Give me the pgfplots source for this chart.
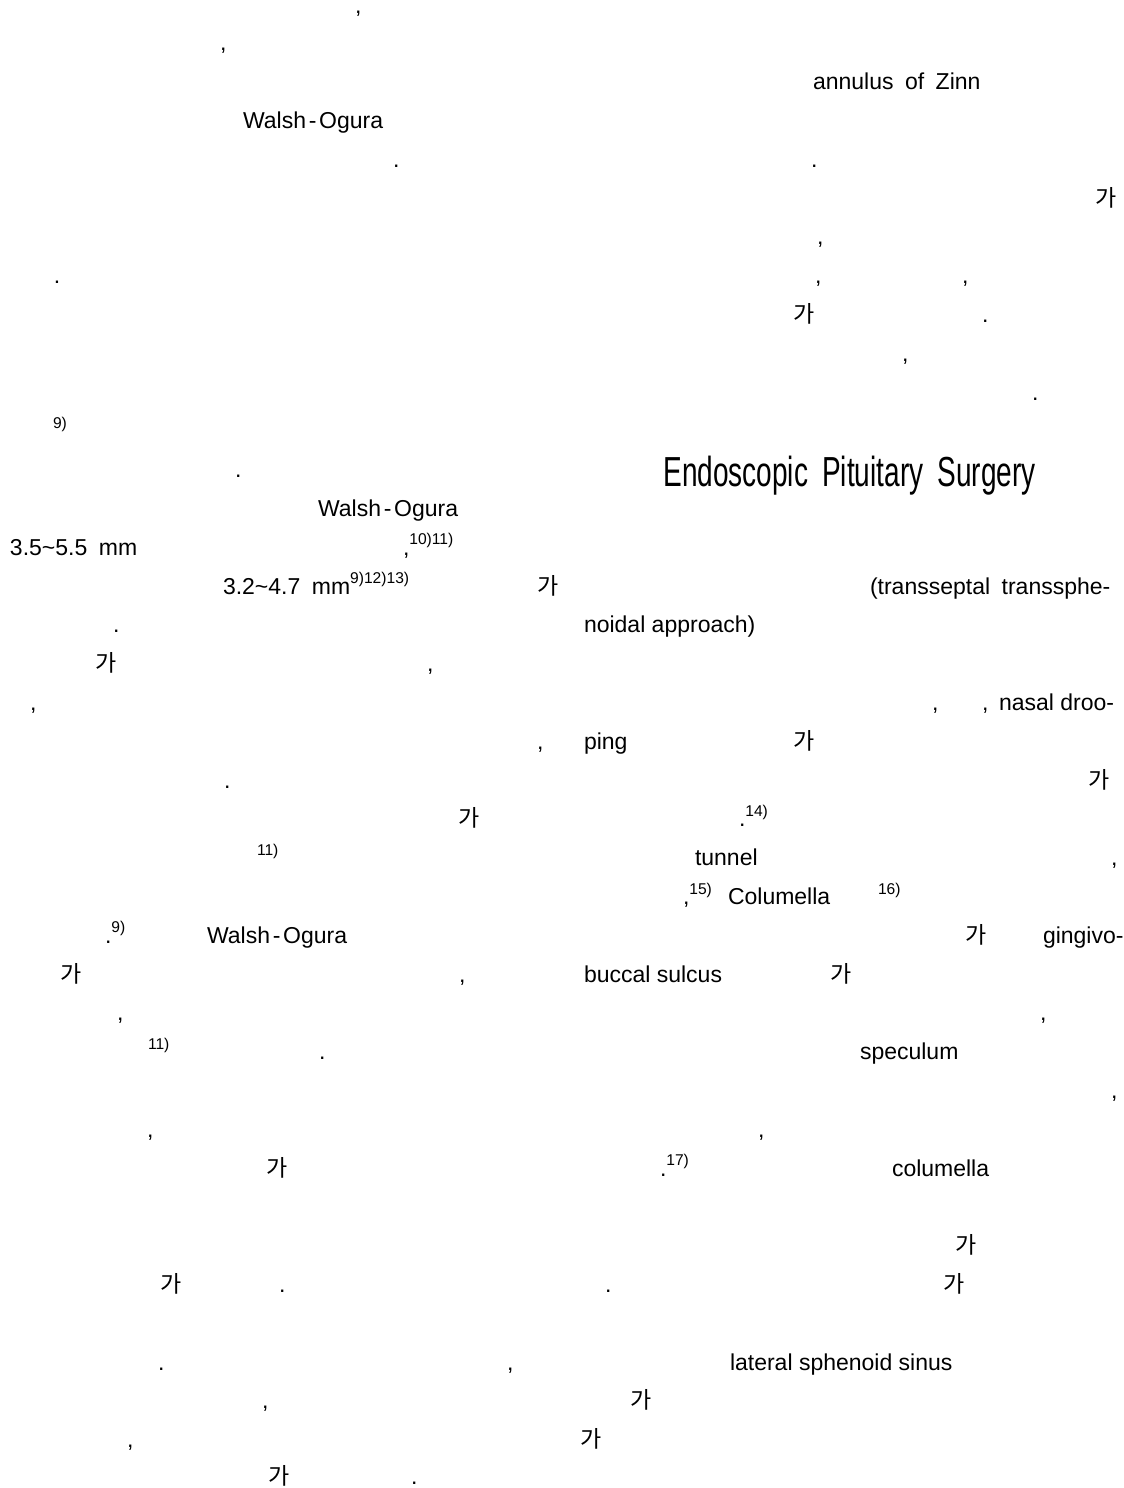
\documentclass[border=0pt]{standalone}
\usepackage{fontspec}
\setmainfont{Liberation Sans}
\newfontfamily\kr{Noto Sans CJK KR}
\usepackage{pgfplots}
\pgfplotsset{compat=1.18}
\newcommand\ga{{\kr 가}}
\newcommand\su[1]{\raisebox{0.45em}{\fontsize{7.8}{8}\selectfont #1}}
\newcommand\ws{\hspace{0.5em}}
\newcommand\WO{Walsh\hspace{0.12em}-\hspace{0.12em}Ogura}
\newcommand\R[1]{12+(#1-1)*38.8}
\tikzset{t/.style={anchor=base west,inner sep=0pt,outer sep=0pt,font=\fontsize{11.5}{13.8}\selectfont}}
\begin{document}
\begin{tikzpicture}
\useasboundingbox (0,0) rectangle (562pt,744pt);
\begin{axis}[at={(0,0)},anchor=south west,scale only axis,width=562pt,height=744pt,
  xmin=0,xmax=1124,ymin=0,ymax=1488,y dir=reverse,hide axis,clip=false]
\addplot[draw=none] coordinates {(0,0) (1124,1488)};
% row 1-12
\node[t] at (axis cs:355,{\R{1}+1}) {,};
\node[t] at (axis cs:220,{\R{2}}) {,};
\node[t] at (axis cs:813,{\R{3}}) {annulus\ws of\ws Zinn};
\node[t] at (axis cs:243,{\R{4}}) {\WO};
\node[t] at (axis cs:393,{\R{5}}) {.};
\node[t] at (axis cs:811,{\R{5}}) {.};
\node[t] at (axis cs:1095,{\R{6}}) {\ga};
\node[t] at (axis cs:817,{\R{7}}) {,};
\node[t] at (axis cs:54,{\R{8}}) {.};
\node[t] at (axis cs:815,{\R{8}}) {,};
\node[t] at (axis cs:962,{\R{8}}) {,};
\node[t] at (axis cs:793,{\R{9}}) {\ga};
\node[t] at (axis cs:982,{\R{9}}) {.};
\node[t] at (axis cs:902,{\R{10}}) {,};
\node[t] at (axis cs:1032,{\R{11}}) {.};
\node[t] at (axis cs:53,{\R{12}}) {\su{9)}};
% row 13
\node[t] at (axis cs:235,{\R{13}}) {.};
\node[anchor=base west,inner sep=0pt] at (axis cs:663,486) {\scalebox{0.667}[1]{\fontsize{21}{24}\selectfont Endoscopic\hspace{0.5em}Pituitary\hspace{0.5em}Surgery}};
% rows 14-20
\node[t] at (axis cs:318,{\R{14}}) {\WO};
\node[t] at (axis cs:10,{\R{15}}) {3.5\textasciitilde 5.5\ws mm};
\node[t] at (axis cs:403,{\R{15}}) {,\su{10)11)}};
\node[t] at (axis cs:223,{\R{16}}) {3.2\textasciitilde 4.7\ws mm\su{9)12)13)}};
\node[t] at (axis cs:537,{\R{16}}) {\ga};
\node[t] at (axis cs:870,{\R{16}}) {(transseptal\ws transsphe-};
\node[t] at (axis cs:113,{\R{17}}) {.};
\node[t] at (axis cs:584,{\R{17}}) {noidal approach)};
\node[t] at (axis cs:95,{\R{18}}) {\ga};
\node[t] at (axis cs:427,{\R{18}}) {,};
\node[t] at (axis cs:30,{\R{19}}) {,};
\node[t] at (axis cs:932,{\R{19}}) {,};
\node[t] at (axis cs:982,{\R{19}}) {,};
\node[t] at (axis cs:999,{\R{19}}) {nasal droo-};
\node[t] at (axis cs:537,{\R{20}}) {,};
\node[t] at (axis cs:584,{\R{20}}) {ping};
\node[t] at (axis cs:793,{\R{20}}) {\ga};
% rows 21-31
\node[t] at (axis cs:224,{\R{21}}) {.};
\node[t] at (axis cs:1088,{\R{21}}) {\ga};
\node[t] at (axis cs:458,{\R{22}}) {\ga};
\node[t] at (axis cs:739,{\R{22}}) {.\su{14)}};
\node[t] at (axis cs:257,{\R{23}}) {\su{11)}};
\node[t] at (axis cs:695,{\R{23}}) {tunnel};
\node[t] at (axis cs:1111,{\R{23}}) {,};
\node[t] at (axis cs:683,{\R{24}}) {,\su{15)}};
\node[t] at (axis cs:728,{\R{24}}) {Columella};
\node[t] at (axis cs:878,{\R{24}}) {\su{16)}};
\node[t] at (axis cs:105,{\R{25}}) {.\su{9)}};
\node[t] at (axis cs:207,{\R{25}}) {\WO};
\node[t] at (axis cs:965,{\R{25}}) {\ga};
\node[t] at (axis cs:1043,{\R{25}}) {gingivo-};
\node[t] at (axis cs:61,{\R{26}}) {\ga};
\node[t] at (axis cs:459,{\R{26}}) {,};
\node[t] at (axis cs:584,{\R{26}}) {buccal sulcus};
\node[t] at (axis cs:830,{\R{26}}) {\ga};
\node[t] at (axis cs:117,{\R{27}}) {,};
\node[t] at (axis cs:1040,{\R{27}}) {,};
\node[t] at (axis cs:148,{\R{28}}) {\su{11)}};
\node[t] at (axis cs:319,{\R{28}}) {.};
\node[t] at (axis cs:860,{\R{28}}) {speculum};
\node[t] at (axis cs:1111,{\R{29}}) {,};
\node[t] at (axis cs:147,{\R{30}}) {,};
\node[t] at (axis cs:758,{\R{30}}) {,};
\node[t] at (axis cs:266,{\R{31}}) {\ga};
\node[t] at (axis cs:660,{\R{31}}) {.\su{17)}};
\node[t] at (axis cs:892,{\R{31}}) {columella};
% rows 33-39
\node[t] at (axis cs:955,{\R{33}}) {\ga};
\node[t] at (axis cs:160,{\R{34}}) {\ga};
\node[t] at (axis cs:279,{\R{34}}) {.};
\node[t] at (axis cs:605,{\R{34}}) {.};
\node[t] at (axis cs:943,{\R{34}}) {\ga};
\node[t] at (axis cs:158,{\R{36}}) {.};
\node[t] at (axis cs:507,{\R{36}}) {,};
\node[t] at (axis cs:730,{\R{36}}) {lateral sphenoid sinus};
\node[t] at (axis cs:262,{\R{37}}) {,};
\node[t] at (axis cs:630,{\R{37}}) {\ga};
\node[t] at (axis cs:127,{\R{38}}) {,};
\node[t] at (axis cs:580,{\R{38}}) {\ga};
\node[t] at (axis cs:268,{\R{39}-2}) {\ga};
\node[t] at (axis cs:411,{\R{39}-2}) {.};
\end{axis}
\end{tikzpicture}
\end{document}
